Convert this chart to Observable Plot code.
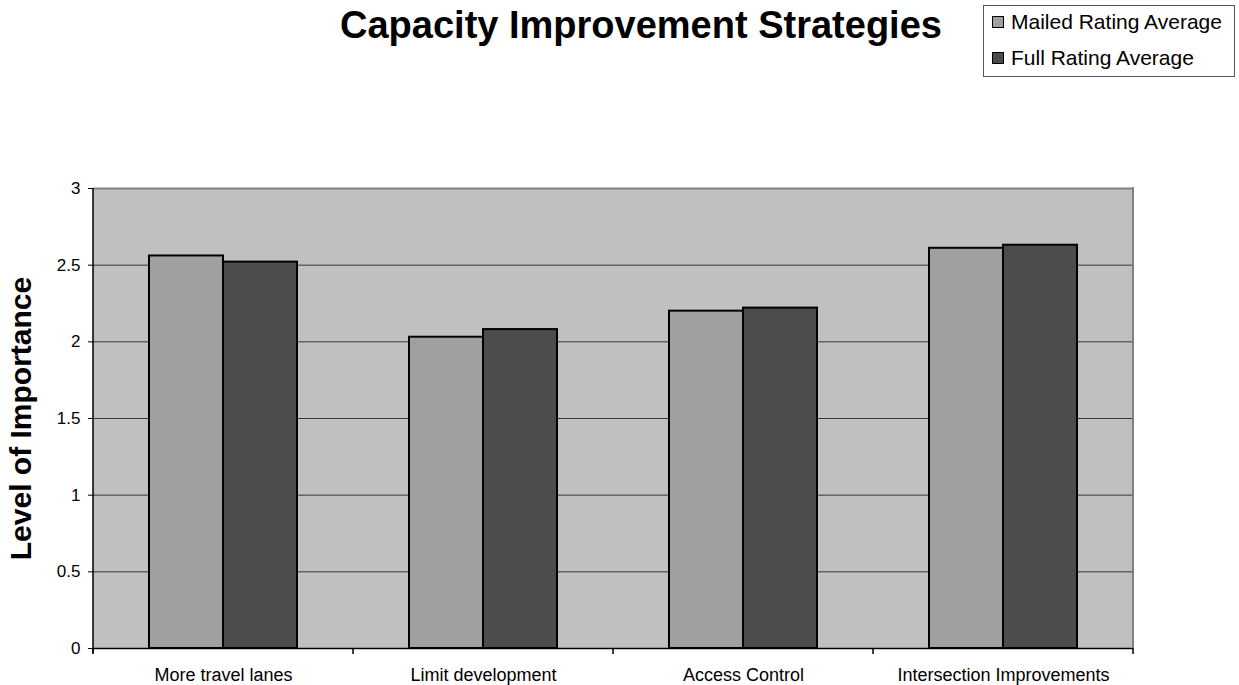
<!DOCTYPE html>
<html>
<head>
<meta charset="utf-8">
<script src="https://cdn.jsdelivr.net/npm/d3@7"></script>
<script src="https://cdn.jsdelivr.net/npm/@observablehq/plot@0.6"></script>
<style>
  html, body { margin: 0; padding: 0; background: #fff; }
  body { width: 1239px; height: 685px; position: relative; overflow: hidden; font-family: "Liberation Sans", Arial, sans-serif; }
  #title { position: absolute; left: 0; width: 1282px; top: 6px; text-align: center; font-size: 38px; line-height: 38px; font-weight: bold; color: #000; }
  #legend { position: absolute; left: 983px; top: 5px; width: 250px; height: 70px; border: 1px solid #555; background: #fff; }
  .item { position: absolute; left: 8px; font-size: 21px; line-height: 21px; color: #000; white-space: nowrap; }
  .sw { display: inline-block; width: 10px; height: 10px; border: 1px solid #000; margin-right: 7px; vertical-align: 1px; }
  #chart { position: absolute; left: 0; top: 100px; }
  #chart svg [aria-label="y-axis label"] text, #chart svg [aria-label="y-axis label"] { font-size: 30px; font-weight: bold; }
</style>
</head>
<body>
<div id="title">Capacity Improvement Strategies</div>
<div id="legend"></div>
<div id="chart"></div>
<script>
const categories = ["More travel lanes", "Limit development", "Access Control", "Intersection Improvements"];
const seriesNames = ["Mailed Rating Average", "Full Rating Average"];
const mailed = [2.56, 2.03, 2.20, 2.61];
const full = [2.52, 2.08, 2.22, 2.63];
const colors = ["#a0a0a0", "#4c4c4c"];
const yTicks = [0, 0.5, 1, 1.5, 2, 2.5, 3];

const data = [];
categories.forEach((c, i) => {
  data.push({category: c, series: seriesNames[0], value: mailed[i]});
  data.push({category: c, series: seriesNames[1], value: full[i]});
});

const legend = document.getElementById("legend");
seriesNames.forEach((s, i) => {
  const d = document.createElement("div");
  d.className = "item";
  d.style.top = (i === 0 ? 5 : 41) + "px";
  d.innerHTML = `<span class="sw" style="background:${colors[i]}"></span>${s}`;
  legend.appendChild(d);
});

const plot = Plot.plot({
  width: 1239,
  height: 585,
  marginTop: 88,
  marginBottom: 37,
  marginLeft: 92,
  marginRight: 106,
  style: {fontFamily: '"Liberation Sans", Arial, sans-serif', fontSize: "17px", color: "#000", background: "transparent"},
  fx: {domain: categories, padding: 0, label: null},
  x: {domain: seriesNames, paddingInner: 0, paddingOuter: 0.745, axis: null},
  y: {domain: [0, 3], ticks: yTicks, label: "Level of Importance"},
  color: {domain: seriesNames, range: colors},
  marks: [
    Plot.frame({fill: "#c0c0c0", stroke: "#c0c0c0", strokeWidth: 1}),
    Plot.ruleY(yTicks.slice(1, -1), {stroke: "#383838", strokeWidth: 1}),
    Plot.ruleY(yTicks.slice(-1), {stroke: "#808080", strokeWidth: 2}),
    Plot.barY(data, {fx: "category", x: "series", y: "value", fill: "series", stroke: "#000", strokeWidth: 2}),
    Plot.ruleY([0], {stroke: "#000", strokeWidth: 1.5}),
    Plot.axisFx({anchor: "bottom", tickSize: 0, tickPadding: 20, fontSize: 18, label: null}),
    Plot.axisY({ticks: yTicks, tickSize: 5, tickPadding: 8, fontSize: 17, tickFormat: d => String(d),
      label: "Level of Importance", labelAnchor: "center", labelArrow: "none", labelOffset: 84})
  ]
});
document.getElementById("chart").appendChild(plot);

// borders and category boundary ticks, placed with the plot's own scales
const fx = plot.scale("fx");
const y = plot.scale("y");
const svg = d3.select(plot);
const y0 = y.apply(0), y3 = y.apply(3);
const left = fx.apply(categories[0]);
const right = fx.apply(categories[categories.length - 1]) + fx.bandwidth;
svg.append("line").attr("x1", right).attr("x2", right).attr("y1", y3 - 1).attr("y2", y0).attr("stroke", "#808080").attr("stroke-width", 2);
svg.append("line").attr("x1", left).attr("x2", left).attr("y1", y3).attr("y2", y0 + 5).attr("stroke", "#000").attr("stroke-width", 1.5);
const bounds = categories.map(c => fx.apply(c)).concat([right]);
bounds.forEach(b => {
  svg.append("line").attr("x1", b).attr("x2", b).attr("y1", y0).attr("y2", y0 + 6).attr("stroke", "#000").attr("stroke-width", 1.5);
});
</script>
</body>
</html>
